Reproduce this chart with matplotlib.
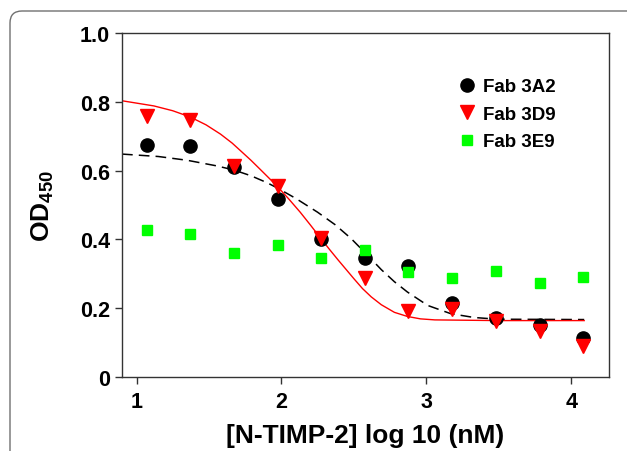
import matplotlib
matplotlib.use("Agg")
import matplotlib.pyplot as plt
from matplotlib.patches import FancyBboxPatch
from matplotlib.transforms import IdentityTransform

plt.rcParams['font.family'] = ['Liberation Sans', 'DejaVu Sans']
plt.rcParams['font.weight'] = 'bold'
plt.rcParams['mathtext.fontset'] = 'custom'
plt.rcParams['mathtext.rm'] = 'Liberation Sans:bold'
plt.rcParams['mathtext.default'] = 'rm'

# log10 concentration of N-TIMP-2
log_conc = [1.075, 1.37, 1.67, 1.975, 2.275, 2.575, 2.875, 3.18, 3.48, 3.785, 4.085]
od_3a2 = [0.675, 0.672, 0.610, 0.516, 0.400, 0.346, 0.324, 0.215, 0.171, 0.152, 0.113]
od_3d9 = [0.758, 0.748, 0.612, 0.555, 0.403, 0.288, 0.193, 0.198, 0.164, 0.135, 0.091]
od_3e9 = [0.427, 0.415, 0.360, 0.384, 0.347, 0.368, 0.305, 0.288, 0.309, 0.274, 0.291]

# fitted curves
fit_3d9_x = [0.90, 1.12, 1.25, 1.37, 1.48, 1.58, 1.66, 1.72, 1.79, 1.86, 1.97, 2.05, 2.13, 2.20, 2.27,
             2.33, 2.39, 2.45, 2.50, 2.56, 2.62, 2.69, 2.78, 2.87, 2.96, 3.06, 3.50, 4.09]
fit_3d9_y = [0.803, 0.788, 0.774, 0.756, 0.733, 0.706, 0.680, 0.657, 0.630, 0.601, 0.555, 0.518, 0.479,
             0.442, 0.404, 0.372, 0.341, 0.311, 0.286, 0.257, 0.233, 0.210, 0.188, 0.176, 0.169, 0.166,
             0.164, 0.164]
fit_3a2_x = [0.90, 1.15, 1.35, 1.55, 1.67, 1.79, 1.90, 1.97, 2.10, 2.25, 2.37, 2.48, 2.59, 2.69, 2.78,
             2.87, 3.01, 3.17, 3.33, 3.49, 4.09]
fit_3a2_y = [0.648, 0.641, 0.630, 0.614, 0.602, 0.585, 0.565, 0.550, 0.519, 0.479, 0.443, 0.403, 0.356,
             0.312, 0.277, 0.247, 0.208, 0.184, 0.173, 0.168, 0.167]

fig = plt.figure(figsize=(6.27, 4.52), dpi=100)
ax = fig.add_axes([0.1946, 0.1637, 0.7764, 0.7611])

# rounded frame around the figure
frame = FancyBboxPatch((10, -30), 650, 470, boxstyle="round,pad=0,rounding_size=12",
                       transform=IdentityTransform(), fill=False, edgecolor='#707070',
                       linewidth=1.0)
fig.add_artist(frame)

ax.plot(fit_3a2_x, fit_3a2_y, color='black', linewidth=1.1, linestyle=(0, (7, 4)), zorder=2)
ax.plot(fit_3d9_x, fit_3d9_y, color='red', linewidth=1.0, zorder=2)

ax.plot(log_conc, od_3a2, 'o', color='black', markersize=9.5, label='Fab 3A2', zorder=3)
ax.plot(log_conc, od_3d9, 'v', color='red', markersize=10, label='Fab 3D9', zorder=4)
ax.plot(log_conc, od_3e9, 's', color='#00ff00', markersize=7.5, label='Fab 3E9', zorder=5)

ax.set_xlim(0.9, 4.26)
ax.set_ylim(0, 1.0)
ax.set_xticks([1, 2, 3, 4])
ax.set_xticklabels(['1', '2', '3', '4'])
ax.set_yticks([0, 0.2, 0.4, 0.6, 0.8, 1.0])
ax.set_yticklabels(['0', '0.2', '0.4', '0.6', '0.8', '1.0'])
ax.tick_params(direction='out', length=5, width=1, labelsize=15.5, color='#333333')
ax.tick_params(axis='x', pad=5)
for s in ax.spines.values():
    s.set_color('#333333')
    s.set_linewidth(1)

ax.set_xlabel('[N-TIMP-2] log 10 (nM)', fontsize=19, fontweight='bold', labelpad=8)
ax.set_ylabel('OD$_{450}$', fontsize=19, fontweight='bold', labelpad=17)

ax.legend(loc='upper left', bbox_to_anchor=(0.647, 0.918), frameon=False, fontsize=13.5,
          handletextpad=0.15, labelspacing=0.55, handlelength=1.4)

fig.savefig('out.png', dpi=100)
